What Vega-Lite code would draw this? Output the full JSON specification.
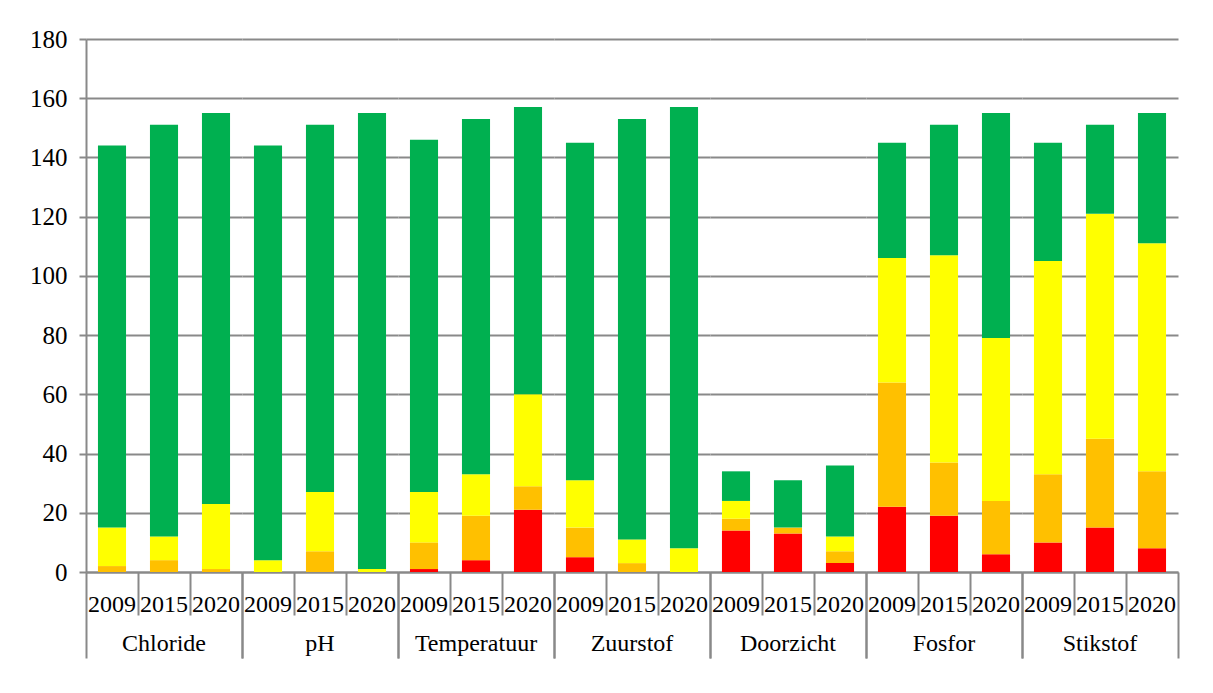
{
  "$schema": "https://vega.github.io/schema/vega-lite/v6.json",
  "padding": {"left": 29, "top": 27, "right": 5, "bottom": 5},
  "background": "white",
  "data": {"values": [
    {"parameter":"Chloride","jaar":"2009","klasse":2,"aantal":2},
    {"parameter":"Chloride","jaar":"2009","klasse":3,"aantal":13},
    {"parameter":"Chloride","jaar":"2009","klasse":4,"aantal":129},
    {"parameter":"Chloride","jaar":"2015","klasse":2,"aantal":4},
    {"parameter":"Chloride","jaar":"2015","klasse":3,"aantal":8},
    {"parameter":"Chloride","jaar":"2015","klasse":4,"aantal":139},
    {"parameter":"Chloride","jaar":"2020","klasse":2,"aantal":1},
    {"parameter":"Chloride","jaar":"2020","klasse":3,"aantal":22},
    {"parameter":"Chloride","jaar":"2020","klasse":4,"aantal":132},
    {"parameter":"pH","jaar":"2009","klasse":3,"aantal":4},
    {"parameter":"pH","jaar":"2009","klasse":4,"aantal":140},
    {"parameter":"pH","jaar":"2015","klasse":2,"aantal":7},
    {"parameter":"pH","jaar":"2015","klasse":3,"aantal":20},
    {"parameter":"pH","jaar":"2015","klasse":4,"aantal":124},
    {"parameter":"pH","jaar":"2020","klasse":3,"aantal":1},
    {"parameter":"pH","jaar":"2020","klasse":4,"aantal":154},
    {"parameter":"Temperatuur","jaar":"2009","klasse":1,"aantal":1},
    {"parameter":"Temperatuur","jaar":"2009","klasse":2,"aantal":9},
    {"parameter":"Temperatuur","jaar":"2009","klasse":3,"aantal":17},
    {"parameter":"Temperatuur","jaar":"2009","klasse":4,"aantal":119},
    {"parameter":"Temperatuur","jaar":"2015","klasse":1,"aantal":4},
    {"parameter":"Temperatuur","jaar":"2015","klasse":2,"aantal":15},
    {"parameter":"Temperatuur","jaar":"2015","klasse":3,"aantal":14},
    {"parameter":"Temperatuur","jaar":"2015","klasse":4,"aantal":120},
    {"parameter":"Temperatuur","jaar":"2020","klasse":1,"aantal":21},
    {"parameter":"Temperatuur","jaar":"2020","klasse":2,"aantal":8},
    {"parameter":"Temperatuur","jaar":"2020","klasse":3,"aantal":31},
    {"parameter":"Temperatuur","jaar":"2020","klasse":4,"aantal":97},
    {"parameter":"Zuurstof","jaar":"2009","klasse":1,"aantal":5},
    {"parameter":"Zuurstof","jaar":"2009","klasse":2,"aantal":10},
    {"parameter":"Zuurstof","jaar":"2009","klasse":3,"aantal":16},
    {"parameter":"Zuurstof","jaar":"2009","klasse":4,"aantal":114},
    {"parameter":"Zuurstof","jaar":"2015","klasse":2,"aantal":3},
    {"parameter":"Zuurstof","jaar":"2015","klasse":3,"aantal":8},
    {"parameter":"Zuurstof","jaar":"2015","klasse":4,"aantal":142},
    {"parameter":"Zuurstof","jaar":"2020","klasse":3,"aantal":8},
    {"parameter":"Zuurstof","jaar":"2020","klasse":4,"aantal":149},
    {"parameter":"Doorzicht","jaar":"2009","klasse":1,"aantal":14},
    {"parameter":"Doorzicht","jaar":"2009","klasse":2,"aantal":4},
    {"parameter":"Doorzicht","jaar":"2009","klasse":3,"aantal":6},
    {"parameter":"Doorzicht","jaar":"2009","klasse":4,"aantal":10},
    {"parameter":"Doorzicht","jaar":"2015","klasse":1,"aantal":13},
    {"parameter":"Doorzicht","jaar":"2015","klasse":2,"aantal":2},
    {"parameter":"Doorzicht","jaar":"2015","klasse":4,"aantal":16},
    {"parameter":"Doorzicht","jaar":"2020","klasse":1,"aantal":3},
    {"parameter":"Doorzicht","jaar":"2020","klasse":2,"aantal":4},
    {"parameter":"Doorzicht","jaar":"2020","klasse":3,"aantal":5},
    {"parameter":"Doorzicht","jaar":"2020","klasse":4,"aantal":24},
    {"parameter":"Fosfor","jaar":"2009","klasse":1,"aantal":22},
    {"parameter":"Fosfor","jaar":"2009","klasse":2,"aantal":42},
    {"parameter":"Fosfor","jaar":"2009","klasse":3,"aantal":42},
    {"parameter":"Fosfor","jaar":"2009","klasse":4,"aantal":39},
    {"parameter":"Fosfor","jaar":"2015","klasse":1,"aantal":19},
    {"parameter":"Fosfor","jaar":"2015","klasse":2,"aantal":18},
    {"parameter":"Fosfor","jaar":"2015","klasse":3,"aantal":70},
    {"parameter":"Fosfor","jaar":"2015","klasse":4,"aantal":44},
    {"parameter":"Fosfor","jaar":"2020","klasse":1,"aantal":6},
    {"parameter":"Fosfor","jaar":"2020","klasse":2,"aantal":18},
    {"parameter":"Fosfor","jaar":"2020","klasse":3,"aantal":55},
    {"parameter":"Fosfor","jaar":"2020","klasse":4,"aantal":76},
    {"parameter":"Stikstof","jaar":"2009","klasse":1,"aantal":10},
    {"parameter":"Stikstof","jaar":"2009","klasse":2,"aantal":23},
    {"parameter":"Stikstof","jaar":"2009","klasse":3,"aantal":72},
    {"parameter":"Stikstof","jaar":"2009","klasse":4,"aantal":40},
    {"parameter":"Stikstof","jaar":"2015","klasse":1,"aantal":15},
    {"parameter":"Stikstof","jaar":"2015","klasse":2,"aantal":30},
    {"parameter":"Stikstof","jaar":"2015","klasse":3,"aantal":76},
    {"parameter":"Stikstof","jaar":"2015","klasse":4,"aantal":30},
    {"parameter":"Stikstof","jaar":"2020","klasse":1,"aantal":8},
    {"parameter":"Stikstof","jaar":"2020","klasse":2,"aantal":26},
    {"parameter":"Stikstof","jaar":"2020","klasse":3,"aantal":77},
    {"parameter":"Stikstof","jaar":"2020","klasse":4,"aantal":44}
  ]},
  "facet": {
    "column": {
      "field": "parameter",
      "type": "nominal",
      "sort": ["Chloride","pH","Temperatuur","Zuurstof","Doorzicht","Fosfor","Stikstof"],
      "header": {
        "title": null,
        "labelOrient": "bottom",
        "labelFontSize": 24,
        "labelColor": "black",
        "labelPadding": -27
      }
    }
  },
  "spacing": 0,
  "spec": {
    "width": 156,
    "height": 533,
    "mark": {"type": "bar", "width": {"band": 0.54}},
    "encoding": {
      "x": {
        "field": "jaar",
        "type": "nominal",
        "scale": {"paddingInner": 0, "paddingOuter": 0},
        "axis": {
          "title": null,
          "labelAngle": 0,
          "bandPosition": 1,
          "tickExtra": true,
          "labelOverlap": false,
          "labelFontSize": 24,
          "labelColor": "black",
          "domainColor": "#898989",
          "domainWidth": 2,
          "tickColor": "#898989",
          "tickWidth": 2,
          "tickSize": {"condition": {"test": "datum.value === '2020' || datum.extra", "value": 86}, "value": 43},
          "labelPadding": {"condition": {"test": "datum.value === '2020'", "value": -66}, "value": -23}
        }
      },
      "y": {
        "field": "aantal",
        "type": "quantitative",
        "stack": "zero",
        "scale": {"domain": [0, 180]},
        "axis": {
          "title": null,
          "values": [0, 20, 40, 60, 80, 100, 120, 140, 160, 180],
          "labelFontSize": 25,
          "labelColor": "black",
          "labelPadding": 12,
          "tickSize": 7,
          "tickColor": "#898989",
          "tickWidth": 2,
          "domainColor": "#898989",
          "domainWidth": 2,
          "gridColor": "#898989",
          "gridWidth": 1.8
        }
      },
      "color": {
        "field": "klasse",
        "type": "ordinal",
        "scale": {"domain": [1, 2, 3, 4], "range": ["#FF0000", "#FFC000", "#FFFF00", "#00B050"]},
        "legend": null
      },
      "order": {"field": "klasse", "type": "quantitative", "sort": "ascending"}
    }
  },
  "config": {
    "font": "Liberation Serif",
    "axis": {"labelFont": "Liberation Serif"},
    "header": {"labelFont": "Liberation Serif"},
    "view": {"stroke": null}
  }
}
